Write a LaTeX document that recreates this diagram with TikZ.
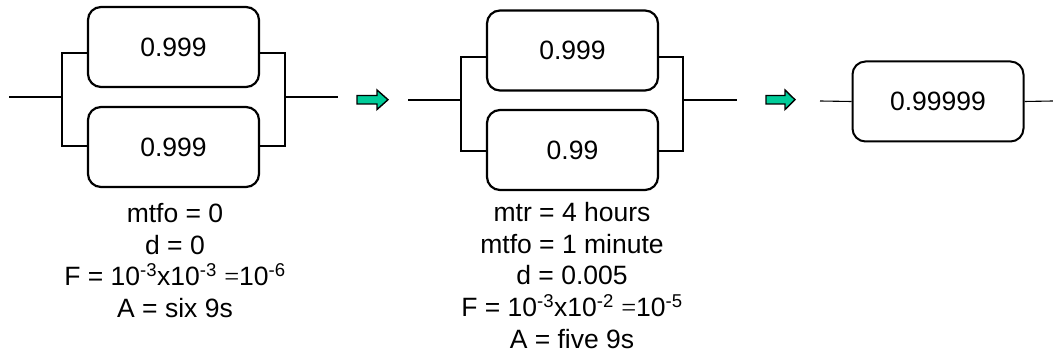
\documentclass[tikz,border=0pt]{standalone}
\usepackage{fontspec}
\setmainfont{Liberation Sans}
\newfontfamily\eqfont{Liberation Serif}
\definecolor{arrowgreen}{RGB}{0,204,153}
\begin{document}
\begin{tikzpicture}[x=1pt,y=-1pt,
  every node/.style={font=\fontsize{26.5}{31.7}\selectfont},
  block/.style={draw, line width=2.2pt, rounded corners=13pt, minimum width=171pt, minimum height=80pt, inner sep=0pt},
  wire/.style={line width=1.8pt},
  thinwire/.style={line width=1.1pt},
  notes/.style={align=center, anchor=north, inner sep=0pt},
  flowarrow/.style={draw=black, line width=1.4pt, fill=arrowgreen, line join=miter}
]
\useasboundingbox (0,0) rectangle (1053,352);

% --- parallel pair 0.999 / 0.999 ---
\node[block] (a1) at (173.5,47) {0.999};
\node[block] (a2) at (173.5,147) {0.999};
\coordinate (ain) at (9,97);
\coordinate (aj) at (62,97);
\coordinate (ak) at (285,97);
\coordinate (aout) at (338,97);
\draw[wire] (ain) -- (aj);
\draw[wire] (aj) |- ([yshift=-6pt]a1.west);
\draw[wire] (aj) |- ([yshift=1pt]a2.west);
\draw[wire] ([yshift=-6pt]a1.east) -| (ak);
\draw[wire] ([yshift=1pt]a2.east) -| (ak);
\draw[wire] (ak) -- (aout);
\node[notes] (anotes) at (175,203) {mtfo = 0\\ d = 0\\ F = 10\textsuperscript{-3}x10\textsuperscript{-3} {\eqfont=}10\textsuperscript{-6}\\ A = six 9s};

% --- arrow ---
\draw[flowarrow] (357,95.5) -- (377,95.5) -- (377,90) -- (388,99.7) -- (377,109.5) -- (377,104) -- (357,104) -- cycle;

% --- parallel pair 0.999 / 0.99 ---
\node[block] (b1) at (572.5,50.5) {0.999};
\node[block] (b2) at (572.5,150) {0.99};
\coordinate (bin) at (408,100);
\coordinate (bj) at (461,100);
\coordinate (bk) at (683,100);
\coordinate (bout) at (737,100);
\draw[wire] (bin) -- (bj);
\draw[wire] (bj) |- ([yshift=-6.5pt]b1.west);
\draw[wire] (bj) |- ([yshift=-1pt]b2.west);
\draw[wire] ([yshift=-6.5pt]b1.east) -| (bk);
\draw[wire] ([yshift=-1pt]b2.east) -| (bk);
\draw[wire] (bk) -- (bout);
\node[notes] (bnotes) at (572,202) {mtr = 4 hours\\ mtfo = 1 minute\\ d = 0.005\\ F = 10\textsuperscript{-3}x10\textsuperscript{-2} {\eqfont=}10\textsuperscript{-5}\\ A = five 9s};

% --- arrow ---
\draw[flowarrow] (766,95.5) -- (785,95.5) -- (785,90) -- (795,99.7) -- (785,109.5) -- (785,104) -- (766,104) -- cycle;

% --- single equivalent block ---
\node[block, line width=2pt] (c1) at (938,101.5) {0.99999};
\coordinate (cin) at (820,101);
\coordinate (cout) at (1053,101);
\draw[thinwire] (cin) -- (c1.west);
\draw[thinwire] (c1.east) -- (cout);
\end{tikzpicture}
\end{document}
